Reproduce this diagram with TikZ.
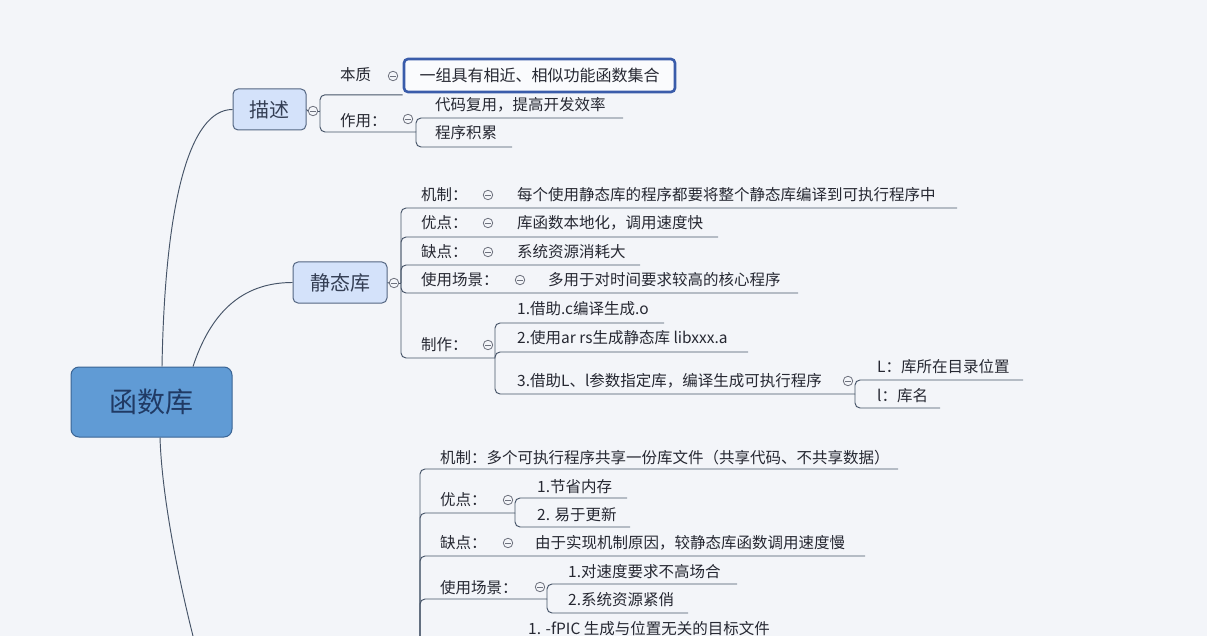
\documentclass[tikz,border=0pt]{standalone}
\usepackage{fontspec}
\setmainfont{Noto Sans CJK SC}
\definecolor{bg}{RGB}{243,245,249}
\definecolor{ln}{RGB}{70,84,104}
\definecolor{tx}{RGB}{38,40,50}
\definecolor{rootfill}{RGB}{96,155,213}
\definecolor{rootdraw}{RGB}{58,100,148}
\definecolor{roottext}{RGB}{32,58,100}
\definecolor{subfill}{RGB}{212,226,250}
\definecolor{subdraw}{RGB}{84,102,130}
\definecolor{subtext}{RGB}{52,62,84}
\definecolor{selblue}{RGB}{58,92,170}
\definecolor{collc}{RGB}{110,114,126}
\begin{document}
\begin{tikzpicture}[x=1pt,y=-1pt,
  br/.style={draw=ln, line width=0.95pt, rounded corners=5pt},
  curve/.style={draw=ln, line width=0.95pt},
  lbl/.style={anchor=west, inner sep=0pt, text=tx, font=\fontsize{15.5}{18}\selectfont},
  rootbox/.style={draw=rootdraw, fill=rootfill, line width=1pt, rounded corners=8pt,
     text=roottext, font=\fontsize{28}{32}\selectfont, inner sep=0pt},
  subbox/.style={draw=subdraw, fill=subfill, line width=1pt, rounded corners=5pt,
     text=subtext, font=\fontsize{20}{24}\selectfont, inner sep=0pt},
  selbox/.style={draw=selblue, fill=white!60!bg, line width=2.6pt, rounded corners=4pt,
     text=tx, font=\fontsize{16}{19}\selectfont, inner sep=0pt},
  coll/.style={circle, draw=collc, line width=0.8pt, fill=bg, minimum size=9.5pt, inner sep=0pt,
     path picture={\draw[collc, line width=0.8pt] ([xshift=-2.6pt]path picture bounding box.center) -- ([xshift=2.6pt]path picture bounding box.center);}}
]
\useasboundingbox (0,0) rectangle (1207,636);
\fill[bg] (0,0) rectangle (1207,636);

% ---------- root and main boxes ----------
\node[rootbox, minimum width=161pt, minimum height=70pt] (root) at (151.5,402) {函数库};
\node[subbox, minimum width=73pt, minimum height=41pt] (ms) at (269.5,109.5) {描述};
\node[subbox, minimum width=94pt, minimum height=41pt] (jt) at (340,282.5) {静态库};
\coordinate (dynend) at (194,640);

\draw[curve] ([xshift=10.5pt]root.north) .. controls (165,200) and (190,109.5) .. (ms.west);
\draw[curve] ([xshift=41.5pt]root.north) .. controls (210,315) and (240,282.5) .. (jt.west);
\draw[curve] ([xshift=8.5pt]root.south) .. controls (162,500) and (180,585) .. (dynend);

% ---------- 描述 ----------
\node[coll] (c-ms) at (313,111) {};
\coordinate (ms-b) at (320,111);
\draw[curve] (ms.east) -- (c-ms.west);
\draw[curve] (c-ms.east) -- (ms-b);

\node[lbl] (bz-l) at (340,75) {本质};
\node[coll] (c-bz) at (393,76) {};
\node[selbox, minimum width=271pt, minimum height=33pt] (bz) at (539.5,75.5) {一组具有相近、相似功能函数集合};
\draw[br] (ms-b) |- ([yshift=-1.5pt]bz.south west);

\node[lbl] (zy-l) at (340,121) {作用：};
\node[coll] (c-zy) at (408,119) {};
\coordinate (zy-b) at (416,132);
\draw[br] (ms-b) |- (zy-b);
\node[lbl] (zy1) at (435,105) {代码复用，提高开发效率};
\node[lbl] (zy2) at (435,133) {程序积累};
\coordinate (zy1-e) at (623,118);
\coordinate (zy2-e) at (512,147);
\draw[br] (zy-b) |- (zy1-e);
\draw[br] (zy-b) |- (zy2-e);

% ---------- 静态库 ----------
\node[coll] (c-jt) at (394,283) {};
\coordinate (jt-b) at (401,283);
\draw[curve] (jt.east) -- (c-jt.west);
\draw[curve] (c-jt.east) -- (jt-b);

\node[lbl] (s1-l) at (421,195) {机制：};
\node[coll] (c-s1) at (488,195) {};
\node[lbl] (s1) at (517,195) {每个使用静态库的程序都要将整个静态库编译到可执行程序中};
\coordinate (s1-e) at (957,208);
\draw[br] (jt-b) |- (s1-e);

\node[lbl] (s2-l) at (421,223) {优点：};
\node[coll] (c-s2) at (488,223) {};
\node[lbl] (s2) at (517,223) {库函数本地化，调用速度快};
\coordinate (s2-e) at (718,237);
\draw[br] (jt-b) |- (s2-e);

\node[lbl] (s3-l) at (421,252) {缺点：};
\node[coll] (c-s3) at (488,252) {};
\node[lbl] (s3) at (517,252) {系统资源消耗大};
\coordinate (s3-e) at (640,265);
\draw[br] (jt-b) |- (s3-e);

\node[lbl] (s4-l) at (421,280) {使用场景：};
\node[coll] (c-s4) at (520,280) {};
\node[lbl] (s4) at (548,280) {多用于对时间要求较高的核心程序};
\coordinate (s4-e) at (798,293);
\draw[br] (jt-b) |- (s4-e);

\node[lbl] (s5-l) at (421,345) {制作：};
\node[coll] (c-s5) at (488,345) {};
\coordinate (s5-b) at (495,358);
\draw[br] (jt-b) |- (s5-b);

\node[lbl] (m1) at (517,309) {1.借助.c编译生成.o};
\node[lbl] (m2) at (517,338) {2.使用ar rs生成静态库 libxxx.a};
\node[lbl] (m3) at (517,381) {3.借助L、l参数指定库，编译生成可执行程序};
\coordinate (m1-e) at (664,323);
\coordinate (m2-e) at (748,352);
\coordinate (m3-b) at (855,394);
\draw[br] (s5-b) |- (m1-e);
\draw[br] (s5-b) |- (m2-e);
\draw[br] (s5-b) |- (m3-b);

\node[coll] (c-m3) at (848,381) {};
\node[lbl] (p1) at (877,367) {L：库所在目录位置};
\node[lbl] (p2) at (877,396) {l：库名};
\coordinate (p1-e) at (1023,380);
\coordinate (p2-e) at (940,408);
\draw[br] (m3-b) |- (p1-e);
\draw[br] (m3-b) |- (p2-e);

% ---------- 动态库 (partly visible) ----------
\coordinate (dy-b) at (420,720);
\node[lbl] (d1) at (440,458) {机制：多个可执行程序共享一份库文件（共享代码、不共享数据）};
\coordinate (d1-e) at (898,469);
\draw[br] (dy-b) |- (d1-e);

\node[lbl] (d2-l) at (440,500) {优点：};
\node[coll] (c-d2) at (508,500) {};
\coordinate (d2-b) at (515,513);
\draw[br] (dy-b) |- (d2-b);
\node[lbl] (d21) at (537,487) {1.节省内存};
\node[lbl] (d22) at (537,515) {2. 易于更新};
\coordinate (d21-e) at (627,498);
\coordinate (d22-e) at (630,527);
\draw[br] (d2-b) |- (d21-e);
\draw[br] (d2-b) |- (d22-e);

\node[lbl] (d3-l) at (440,543) {缺点：};
\node[coll] (c-d3) at (508,543) {};
\node[lbl] (d3) at (535,543) {由于实现机制原因，较静态库函数调用速度慢};
\coordinate (d3-e) at (865,556);
\draw[br] (dy-b) |- (d3-e);

\node[lbl] (d4-l) at (440,588) {使用场景：};
\node[coll] (c-d4) at (540,587) {};
\coordinate (d4-b) at (547,599);
\draw[br] (dy-b) |- (d4-b);
\node[lbl] (d41) at (568,572) {1.对速度要求不高场合};
\node[lbl] (d42) at (568,600) {2.系统资源紧俏};
\coordinate (d41-e) at (737,584);
\coordinate (d42-e) at (688,613);
\draw[br] (d4-b) |- (d41-e);
\draw[br] (d4-b) |- (d42-e);

\node[lbl] (d5) at (528,629) {1. -fPIC 生成与位置无关的目标文件};
\end{tikzpicture}
\end{document}
